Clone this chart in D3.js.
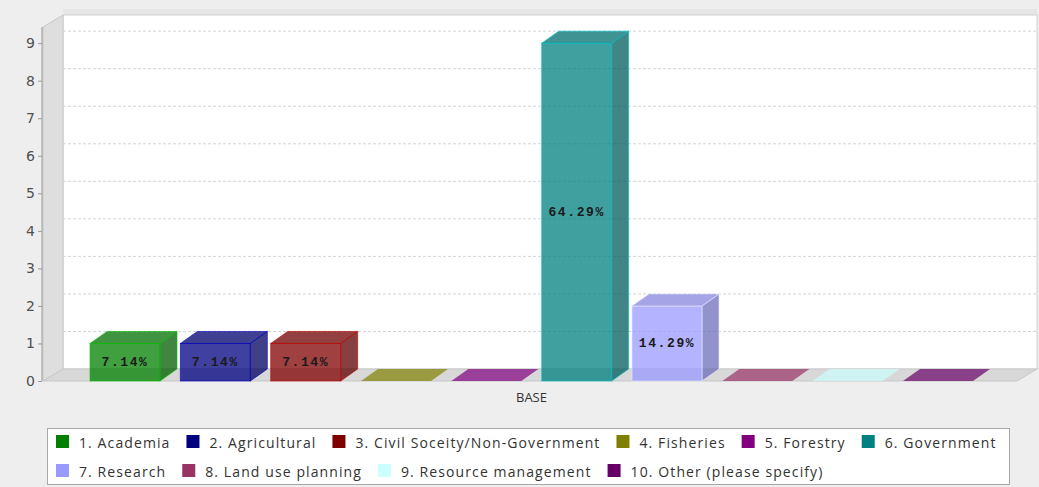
<!DOCTYPE html>
<html>
<head>
<meta charset="utf-8">
<script src="https://cdn.jsdelivr.net/npm/d3@7"></script>
<style>
  body { margin: 0; background: #eeeeee; }
  svg { display: block; }
</style>
</head>
<body>
<svg id="chart" width="1039" height="487"></svg>
<script>
// chart data
const categories = ["1. Academia", "2. Agricultural", "3. Civil Soceity/Non-Government", "4. Fisheries",
    "5. Forestry", "6. Government", "7. Research", "8. Land use planning", "9. Resource management",
    "10. Other (please specify)"];
const counts = [1, 1, 1, 0, 0, 9, 2, 0, 0, 0];
const colors = ["#008000", "#000080", "#800000", "#808000", "#800080", "#008080", "#9999ff", "#993366",
    "#ccffff", "#660066"];
const yTicks = [0, 1, 2, 3, 4, 5, 6, 7, 8, 9];
const groupLabel = "BASE";
const legendRows = [[0, 1, 2, 3, 4, 5], [6, 7, 8, 9]];

const total = d3.sum(counts);
const pct = v => d3.format(".2f")(v / total * 100) + "%";

let svg = d3.select("#chart");

// 3d offsets
let wallDx = 20, wallDy = 12;
let barDx = 17, barDy = 12;

let plotLeft = 43, plotRight = 1017, plotBottom = 381, plotTop = 27;

let y = d3.scaleLinear().domain([0, 9.43]).range([plotBottom, plotTop]);
let x = d3.scaleBand().domain(categories).range([90, 973]).paddingInner(0.225).paddingOuter(0);

let g = svg.append("g");

// thin shade above the wall
g.append("rect")
    .attr("x", plotLeft + wallDx).attr("y", plotTop - wallDy - 6)
    .attr("width", plotRight - plotLeft).attr("height", 6)
    .attr("fill", "#e6e6e6");

// back wall
g.append("rect")
    .attr("x", plotLeft + wallDx).attr("y", plotTop - wallDy)
    .attr("width", plotRight - plotLeft).attr("height", plotBottom - plotTop)
    .attr("fill", "#ffffff").attr("stroke", "#cfcfcf");

// left wall
g.append("polygon")
    .attr("points", [[plotLeft, plotTop], [plotLeft + wallDx, plotTop - wallDy], [plotLeft + wallDx, plotBottom - wallDy], [plotLeft, plotBottom]].join(" "))
    .attr("fill", "#dedede").attr("stroke", "#c8c8c8");

// floor
g.append("polygon")
    .attr("points", [[plotLeft, plotBottom], [plotLeft + wallDx, plotBottom - wallDy], [plotRight + wallDx, plotBottom - wallDy], [plotRight, plotBottom]].join(" "))
    .attr("fill", "#d8d8d8").attr("stroke", "#c8c8c8");

// grid lines on the back wall
g.selectAll("line.grid")
    .data(yTicks.filter(d => d > 0))
    .enter().append("line")
    .attr("class", "grid")
    .attr("x1", plotLeft + wallDx).attr("x2", plotRight + wallDx)
    .attr("y1", d => y(d) - wallDy).attr("y2", d => y(d) - wallDy)
    .attr("stroke", "#d4d4d4").attr("stroke-dasharray", "3,2");

// y axis
let yAxis = d3.axisLeft(y).tickValues(yTicks).tickSize(4).tickFormat(d3.format("d"));
let ax = svg.append("g").attr("transform", "translate(" + (plotLeft - 1) + ",0)").call(yAxis);
ax.select(".domain").attr("stroke", "#999").attr("d", "M0," + plotTop + "V" + plotBottom);
ax.selectAll(".tick line").attr("stroke", "#999");
ax.selectAll(".tick text")
    .attr("fill", "#505050").attr("font-family", "DejaVu Sans").attr("font-size", 14).attr("x", -7);

// bars
let bars = g.selectAll("g.bar")
    .data(categories.map((c, i) => ({ cat: c, value: counts[i], color: colors[i] })))
    .enter().append("g").attr("class", "bar");

bars.each(function (d) {
    let b = d3.select(this);
    let x0 = x(d.cat), x1 = x0 + x.bandwidth();
    let yt = y(d.value), yb = y(0);
    let c = d3.color(d.color);
    let edge = d3.color(d.color).brighter(1.2);
    if (d.value > 0) {
        // side
        b.append("polygon")
            .attr("points", [[x1, yt], [x1 + barDx, yt - barDy], [x1 + barDx, yb - barDy], [x1, yb]].join(" "))
            .attr("fill", c.darker(0.9)).attr("fill-opacity", 0.75)
            .attr("stroke", edge).attr("stroke-opacity", 0.6);
        // front
        b.append("rect")
            .attr("x", x0).attr("y", yt).attr("width", x1 - x0).attr("height", yb - yt)
            .attr("fill", c).attr("fill-opacity", 0.75)
            .attr("stroke", edge).attr("stroke-opacity", 0.6);
    }
    // top
    b.append("polygon")
        .attr("points", [[x0, yt], [x0 + barDx, yt - barDy], [x1 + barDx, yt - barDy], [x1, yt]].join(" "))
        .attr("fill", d.value > 0 ? c.darker(0.4) : c).attr("fill-opacity", d.value > 0 ? 0.75 : 0.7)
        .attr("stroke", d.value > 0 ? edge : "none").attr("stroke-opacity", 0.6);

    if (d.value > 0) {
        b.append("text")
            .attr("x", (x0 + x1) / 2).attr("y", (yt + yb) / 2)
            .attr("text-anchor", "middle").attr("dominant-baseline", "central")
            .attr("font-family", "Liberation Mono").attr("font-weight", "bold")
            .attr("font-size", 13).attr("letter-spacing", "1.6px")
            .attr("fill", "#1a1a1a")
            .text(pct(d.value));
    }
});

// category label
svg.append("text")
    .attr("x", (x.range()[0] + x.range()[1]) / 2).attr("y", 402)
    .attr("text-anchor", "middle").attr("font-family", "Open Sans").attr("font-size", 13)
    .attr("fill", "#333").text(groupLabel);

// legend
let legend = svg.append("g");
legend.append("rect")
    .attr("x", 47.5).attr("y", 428.5).attr("width", 962).attr("height", 56)
    .attr("fill", "#ffffff").attr("stroke", "#a8a8a8");

legendRows.forEach((row, r) => {
    let cx = 56;
    let cy = 442 + r * 29;
    row.forEach(i => {
        legend.append("rect")
            .attr("x", cx).attr("y", cy - 7).attr("width", 13).attr("height", 13)
            .attr("fill", colors[i]);
        let t = legend.append("text")
            .attr("x", cx + 23).attr("y", cy)
            .attr("dominant-baseline", "central")
            .attr("font-family", "Open Sans").attr("font-size", 14).attr("letter-spacing", "1.1px")
            .attr("fill", "#333")
            .text(categories[i]);
        cx += 23 + t.node().getComputedTextLength() + 16;
    });
});
</script>
</body>
</html>
